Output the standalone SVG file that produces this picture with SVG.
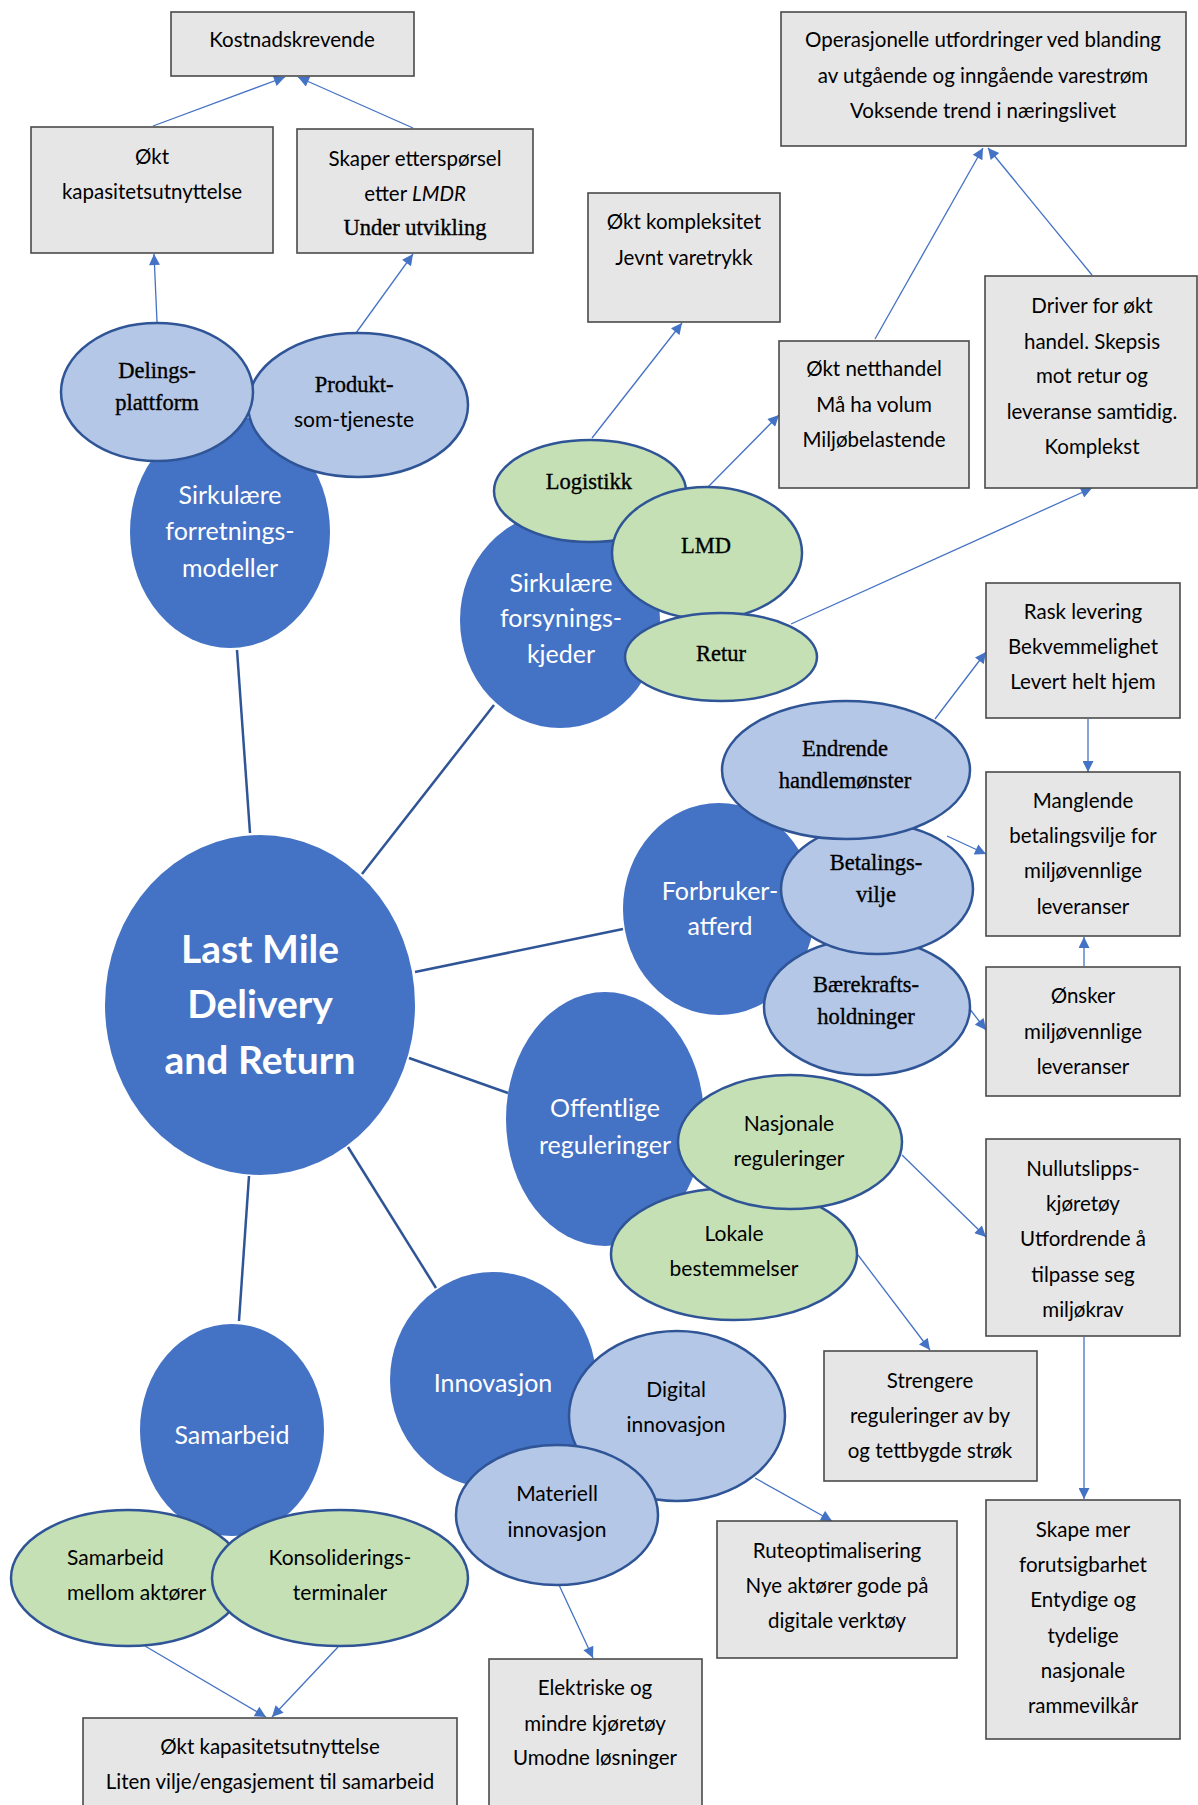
<svg xmlns="http://www.w3.org/2000/svg" width="1198" height="1805" viewBox="0 0 1198 1805">
<defs>
<marker id="ah" viewBox="0 0 10 10" refX="10" refY="5" markerWidth="13" markerHeight="11" markerUnits="userSpaceOnUse" orient="auto"><path d="M0,0 L10,5 L0,10 z" fill="#4472C4"/></marker>
<style>
.box{fill:#E7E6E6;stroke:#4a4a4a;stroke-width:1.6}
.main{fill:#4472C4;stroke:none}
.lb{fill:#B4C7E7;stroke:#2F5597;stroke-width:2.5}
.gr{fill:#C5E0B4;stroke:#2F5597;stroke-width:2.5}
.link{stroke:#2F5597;stroke-width:2.5;fill:none}
.arr{stroke:#4472C4;stroke-width:1.3;fill:none;marker-end:url(#ah)}
.t{font-family:Lato,"Open Sans",sans-serif;font-size:20.5px;fill:#000;text-anchor:middle}
.s{font-family:"Liberation Serif","Times New Roman",serif;font-size:22.5px;fill:#000;stroke:#000;stroke-width:0.35;text-anchor:middle}
.w{font-family:Lato,"Open Sans",sans-serif;font-size:25px;fill:#fff;text-anchor:middle}
.big{font-family:Lato,"Open Sans",sans-serif;font-size:39px;font-weight:bold;fill:#fff;text-anchor:middle}
.c{font-family:Lato,"Open Sans",sans-serif;font-size:21px;fill:#000;text-anchor:middle}
.cl{font-family:Lato,"Open Sans",sans-serif;font-size:21px;fill:#000;text-anchor:start}
</style>
</defs>
<rect width="1198" height="1805" fill="#fff"/>

<g id="connectors">
<line class="link" x1="237" y1="650" x2="250" y2="833"/>
<line class="link" x1="494" y1="705" x2="362" y2="874"/>
<line class="link" x1="415" y1="972" x2="623" y2="929"/>
<line class="link" x1="409" y1="1058" x2="508" y2="1093"/>
<line class="link" x1="348" y1="1147" x2="436" y2="1288"/>
<line class="link" x1="249" y1="1176" x2="239" y2="1321"/>
<line class="arr" x1="153" y1="126" x2="285" y2="77"/>
<line class="arr" x1="413" y1="128" x2="298" y2="77"/>
<line class="arr" x1="157" y1="322" x2="154" y2="254"/>
<line class="arr" x1="356" y1="333" x2="413" y2="254"/>
<line class="arr" x1="592" y1="438" x2="682" y2="323"/>
<line class="arr" x1="708" y1="487" x2="779" y2="415"/>
<line class="arr" x1="875" y1="339" x2="983" y2="148"/>
<line class="arr" x1="1092" y1="275" x2="988" y2="148"/>
<line class="arr" x1="791" y1="624" x2="1092" y2="488"/>
<line class="arr" x1="935" y1="719" x2="986" y2="652"/>
<line class="arr" x1="1088" y1="719" x2="1088" y2="772"/>
<line class="arr" x1="947" y1="836" x2="986" y2="854"/>
<line class="arr" x1="1084" y1="966" x2="1084" y2="937"/>
<line class="arr" x1="969" y1="1008" x2="986" y2="1030"/>
<line class="arr" x1="902" y1="1155" x2="986" y2="1237"/>
<line class="arr" x1="858" y1="1255" x2="930" y2="1350"/>
<line class="arr" x1="1084" y1="1337" x2="1084" y2="1499"/>
<line class="arr" x1="755" y1="1478" x2="832" y2="1521"/>
<line class="arr" x1="559" y1="1585" x2="593" y2="1658"/>
<line class="arr" x1="145" y1="1646" x2="266" y2="1717"/>
<line class="arr" x1="338" y1="1647" x2="272" y2="1717"/>
</g>

<g id="box-kostnad"><rect class="box" x="171" y="12" width="243" height="64"/><text class="t" x="292" y="47">Kostnadskrevende</text></g>
<g id="box-okt-kap"><rect class="box" x="31" y="127" width="242" height="126"/><text class="t" x="152" y="164">Økt</text><text class="t" x="152" y="199">kapasitetsutnyttelse</text></g>
<g id="box-skaper"><rect class="box" x="297" y="129" width="236" height="124"/><text class="t" x="415" y="166">Skaper etterspørsel</text><text class="t" x="415" y="201">etter <tspan font-style="italic">LMDR</tspan></text><text class="s" x="415" y="235">Under utvikling</text></g>
<g id="box-operasjonelle"><rect class="box" x="781" y="12" width="405" height="134"/><text class="t" x="983" y="47">Operasjonelle utfordringer ved blanding</text><text class="t" x="983" y="83">av utgående og inngående varestrøm</text><text class="t" x="983" y="118">Voksende trend i næringslivet</text></g>
<g id="box-kompleksitet"><rect class="box" x="588" y="193" width="192" height="129"/><text class="t" x="684" y="229">Økt kompleksitet</text><text class="t" x="684" y="265">Jevnt varetrykk</text></g>
<g id="box-netthandel"><rect class="box" x="779" y="341" width="190" height="147"/><text class="t" x="874" y="376">Økt netthandel</text><text class="t" x="874" y="412">Må ha volum</text><text class="t" x="874" y="447">Miljøbelastende</text></g>
<g id="box-driver"><rect class="box" x="985" y="276" width="212" height="212"/><text class="t" x="1092" y="313">Driver for økt</text><text class="t" x="1092" y="349">handel. Skepsis</text><text class="t" x="1092" y="383">mot retur og</text><text class="t" x="1092" y="419">leveranse samtidig.</text><text class="t" x="1092" y="454">Komplekst</text></g>
<g id="box-rask"><rect class="box" x="986" y="583" width="194" height="135"/><text class="t" x="1083" y="619">Rask levering</text><text class="t" x="1083" y="654">Bekvemmelighet</text><text class="t" x="1083" y="689">Levert helt hjem</text></g>
<g id="box-manglende"><rect class="box" x="986" y="772" width="194" height="164"/><text class="t" x="1083" y="808">Manglende</text><text class="t" x="1083" y="843">betalingsvilje for</text><text class="t" x="1083" y="878">miljøvennlige</text><text class="t" x="1083" y="914">leveranser</text></g>
<g id="box-onsker"><rect class="box" x="986" y="967" width="194" height="129"/><text class="t" x="1083" y="1003">Ønsker</text><text class="t" x="1083" y="1039">miljøvennlige</text><text class="t" x="1083" y="1074">leveranser</text></g>
<g id="box-nullutslipp"><rect class="box" x="986" y="1139" width="194" height="197"/><text class="t" x="1083" y="1176">Nullutslipps-</text><text class="t" x="1083" y="1211">kjøretøy</text><text class="t" x="1083" y="1246">Utfordrende å</text><text class="t" x="1083" y="1282">tilpasse seg</text><text class="t" x="1083" y="1317">miljøkrav</text></g>
<g id="box-strengere"><rect class="box" x="824" y="1351" width="213" height="130"/><text class="t" x="930" y="1388">Strengere</text><text class="t" x="930" y="1423">reguleringer av by</text><text class="t" x="930" y="1458">og tettbygde strøk</text></g>
<g id="box-rute"><rect class="box" x="717" y="1521" width="240" height="137"/><text class="t" x="837" y="1558">Ruteoptimalisering</text><text class="t" x="837" y="1593">Nye aktører gode på</text><text class="t" x="837" y="1628">digitale verktøy</text></g>
<g id="box-skape"><rect class="box" x="986" y="1500" width="194" height="239"/><text class="t" x="1083" y="1537">Skape mer</text><text class="t" x="1083" y="1572">forutsigbarhet</text><text class="t" x="1083" y="1607">Entydige og</text><text class="t" x="1083" y="1643">tydelige</text><text class="t" x="1083" y="1678">nasjonale</text><text class="t" x="1083" y="1713">rammevilkår</text></g>
<g id="box-elektriske"><rect class="box" x="489" y="1659" width="213" height="160"/><text class="t" x="595" y="1695">Elektriske og</text><text class="t" x="595" y="1731">mindre kjøretøy</text><text class="t" x="595" y="1765">Umodne løsninger</text></g>
<g id="box-samarbeid-res"><rect class="box" x="83" y="1718" width="374" height="100"/><text class="t" x="270" y="1754">Økt kapasitetsutnyttelse</text><text class="t" x="270" y="1789">Liten vilje/engasjement til samarbeid</text></g>

<g id="node-center"><ellipse class="main" cx="260" cy="1005" rx="155" ry="170"/><text class="big" x="260" y="963">Last Mile</text><text class="big" x="260" y="1018">Delivery</text><text class="big" x="260" y="1074">and Return</text></g>

<g id="node-forretning"><ellipse class="main" cx="230" cy="532" rx="100" ry="116"/><text class="w" x="230" y="504">Sirkulære</text><text class="w" x="230" y="540">forretnings-</text><text class="w" x="230" y="577">modeller</text></g>
<g id="node-produkt"><ellipse class="lb" cx="358" cy="405" rx="110" ry="72"/><text class="s" x="354" y="392">Produkt-</text><text class="c" x="354" y="427">som-tjeneste</text></g>
<g id="node-delings"><ellipse class="lb" cx="157" cy="392" rx="96" ry="69"/><text class="s" x="157" y="378">Delings-</text><text class="s" x="157" y="410">plattform</text></g>

<g id="node-forsyning"><ellipse class="main" cx="560" cy="620" rx="100" ry="108"/><text class="w" x="561" y="592">Sirkulære</text><text class="w" x="561" y="627">forsynings-</text><text class="w" x="561" y="663">kjeder</text></g>
<g id="node-logistikk"><ellipse class="gr" cx="590" cy="491" rx="96" ry="51"/><text class="s" x="589" y="489">Logistikk</text></g>
<g id="node-lmd"><ellipse class="gr" cx="707" cy="553" rx="95" ry="66"/><text class="s" x="706" y="553">LMD</text></g>
<g id="node-retur"><ellipse class="gr" cx="721" cy="657" rx="96" ry="44"/><text class="s" x="721" y="661">Retur</text></g>

<g id="node-forbruker"><ellipse class="main" cx="719" cy="909" rx="96" ry="106"/><text class="w" x="720" y="900">Forbruker-</text><text class="w" x="720" y="935">atferd</text></g>
<g id="node-baerekraft"><ellipse class="lb" cx="867" cy="1007" rx="103" ry="68"/><text class="s" x="866" y="992">Bærekrafts-</text><text class="s" x="866" y="1024">holdninger</text></g>
<g id="node-betaling"><ellipse class="lb" cx="877" cy="889" rx="96" ry="65"/><text class="s" x="876" y="870">Betalings-</text><text class="s" x="876" y="902">vilje</text></g>
<g id="node-endrende"><ellipse class="lb" cx="846" cy="770" rx="124" ry="69"/><text class="s" x="845" y="756">Endrende</text><text class="s" x="845" y="788">handlemønster</text></g>

<g id="node-offentlige"><ellipse class="main" cx="605" cy="1119" rx="99" ry="127"/><text class="w" x="605" y="1117">Offentlige</text><text class="w" x="605" y="1154">reguleringer</text></g>
<g id="node-lokale"><ellipse class="gr" cx="734" cy="1254" rx="123" ry="66"/><text class="c" x="734" y="1241">Lokale</text><text class="c" x="734" y="1276">bestemmelser</text></g>
<g id="node-nasjonale"><ellipse class="gr" cx="790" cy="1142" rx="112" ry="67"/><text class="c" x="789" y="1131">Nasjonale</text><text class="c" x="789" y="1166">reguleringer</text></g>

<g id="node-innovasjon"><ellipse class="main" cx="493" cy="1380" rx="103" ry="108"/><text class="w" x="493" y="1392">Innovasjon</text></g>
<g id="node-digital"><ellipse class="lb" cx="677" cy="1416" rx="108" ry="85"/><text class="c" x="676" y="1397">Digital</text><text class="c" x="676" y="1432">innovasjon</text></g>
<g id="node-materiell"><ellipse class="lb" cx="557" cy="1515" rx="101" ry="70"/><text class="c" x="557" y="1501">Materiell</text><text class="c" x="557" y="1537">innovasjon</text></g>

<g id="node-samarbeid"><ellipse class="main" cx="232" cy="1430" rx="92" ry="106"/><text class="w" x="232" y="1444">Samarbeid</text></g>
<g id="node-mellom"><ellipse class="gr" cx="128" cy="1578" rx="117" ry="68"/><text class="cl" x="67" y="1565">Samarbeid</text><text class="cl" x="67" y="1600">mellom aktører</text></g>
<g id="node-konsolidering"><ellipse class="gr" cx="340" cy="1578" rx="128" ry="68"/><text class="c" x="340" y="1565">Konsoliderings-</text><text class="c" x="340" y="1600">terminaler</text></g>
</svg>
